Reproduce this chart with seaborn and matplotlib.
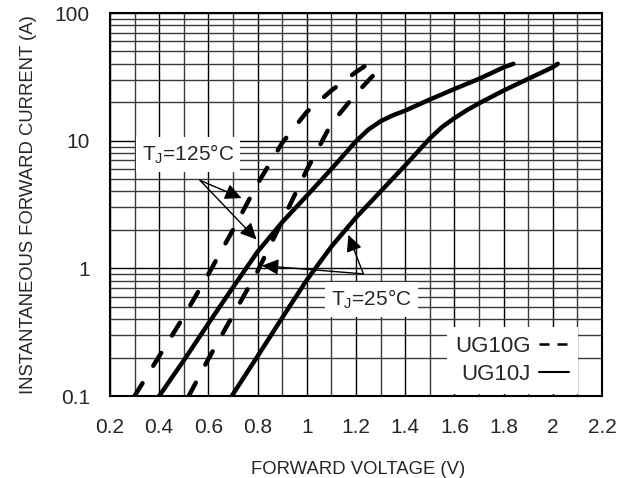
import numpy as np
import pandas as pd
import matplotlib
matplotlib.use("Agg")
import matplotlib.pyplot as plt
from matplotlib.ticker import MultipleLocator, LogLocator, FixedLocator, NullFormatter
from matplotlib.lines import Line2D
import seaborn as sns

# ---------------- data ----------------
v_g125 = [0.30, 0.40, 0.50, 0.60, 0.70, 0.80, 0.90, 1.00, 1.10, 1.20, 1.25]
i_g125 = [0.10, 0.205, 0.42, 0.90, 2.0, 4.6, 9.6, 16.8, 24.7, 34.5, 40.0]

v_g25 = [0.52, 0.60, 0.70, 0.80, 0.90, 1.00, 1.10, 1.20, 1.28]
i_g25 = [0.10, 0.195, 0.43, 0.95, 2.35, 5.9, 13.6, 23.3, 34.0]

v_j125 = [0.40, 0.50, 0.60, 0.70, 0.80, 0.90, 1.00, 1.10, 1.20, 1.25, 1.30, 1.35, 1.40, 1.50, 1.60, 1.70, 1.80, 1.84]
i_j125 = [0.10, 0.19, 0.37, 0.71, 1.35, 2.3, 3.7, 6.0, 9.9, 12.2, 14.2, 15.8, 17.2, 21.0, 25.4, 30.5, 37.5, 40.0]

v_j25 = [0.695, 0.80, 0.90, 1.00, 1.10, 1.20, 1.30, 1.40, 1.50, 1.55, 1.60, 1.65, 1.70, 1.80, 1.90, 2.00, 2.02]
i_j25 = [0.10, 0.205, 0.41, 0.81, 1.48, 2.5, 4.0, 6.4, 10.4, 12.8, 15.0, 17.3, 19.6, 24.7, 30.5, 37.6, 40.0]

x_ticks = [0.2, 0.4, 0.6, 0.8, 1.0, 1.2, 1.4, 1.6, 1.8, 2.0, 2.2]
x_tick_labels = ["0.2", "0.4", "0.6", "0.8", "1", "1.2", "1.4", "1.6", "1.8", "2", "2.2"]
y_ticks = [0.1, 1, 10, 100]
y_tick_labels = ["0.1", "1", "10", "100"]

legend_labels = ["UG10G", "UG10J"]
label_125 = "T$_\\mathregular{J}$=125°C"
label_25 = "T$_\\mathregular{J}$=25°C"

# ---------------- table ----------------
frames = []
for name, dev, v, i in [("G125", "UG10G", v_g125, i_g125),
                        ("G25", "UG10G", v_g25, i_g25),
                        ("J125", "UG10J", v_j125, i_j125),
                        ("J25", "UG10J", v_j25, i_j25)]:
    frames.append(pd.DataFrame({"V": v, "I": i, "curve": name, "device": dev}))
df = pd.concat(frames, ignore_index=True)

# ---------------- style ----------------
sns.set_style("white")
plt.rcParams["font.family"] = ["Liberation Sans", "DejaVu Sans"]
plt.rcParams["mathtext.fontset"] = "custom"
plt.rcParams["mathtext.rm"] = "Liberation Sans"
plt.rcParams["mathtext.it"] = "Liberation Sans:italic"
plt.rcParams["mathtext.bf"] = "Liberation Sans:bold"

fig = plt.figure(figsize=(6.27, 4.78), dpi=100)
ax = fig.add_axes([0.1754, 0.1715, 0.7847, 0.8013])

dash_map = {"G125": (3.4, 4.6), "G25": (3.4, 4.6), "J125": "", "J25": ""}
sns.lineplot(data=df, x="V", y="I", units="curve", style="curve", dashes=dash_map,
             estimator=None, color="black", lw=3.2, legend=False, ax=ax,
             dash_capstyle="round", solid_capstyle="round", solid_joinstyle="round",
             zorder=4)

ax.set_yscale("log")
ax.set_xlim(0.2, 2.2)
ax.set_ylim(0.1, 100)

ax.xaxis.set_major_locator(FixedLocator(x_ticks))
ax.set_xticklabels(x_tick_labels)
ax.xaxis.set_minor_locator(MultipleLocator(0.1))
ax.yaxis.set_major_locator(FixedLocator(y_ticks))
ax.set_yticklabels(y_tick_labels)
ax.yaxis.set_minor_locator(LogLocator(base=10, subs=np.arange(2, 10)))
ax.yaxis.set_minor_formatter(NullFormatter())

ax.tick_params(axis="both", which="both", length=0)
ax.tick_params(axis="x", which="major", pad=15.5, labelsize=15)
ax.tick_params(axis="y", which="major", pad=14.5, labelsize=15)

ax.grid(True, which="major", color="black", lw=1.0, zorder=0)
ax.grid(True, which="minor", color="#3a3a3a", lw=1.0, zorder=0)
ax.set_axisbelow(True)

for sp in ax.spines.values():
    sp.set_color("black")
    sp.set_linewidth(1.5)

ax.set_xlabel("FORWARD VOLTAGE (V)", fontsize=13.3)
ax.set_ylabel("INSTANTANEOUS FORWARD CURRENT (A)", fontsize=13.3)
ax.xaxis.set_label_coords(0.505, -0.170)
ax.yaxis.set_label_coords(-0.148, 0.5)

# ---------------- annotations ----------------
box = dict(facecolor="white", edgecolor="none", boxstyle="square,pad=0.3")
ax.text(0.517, 7.8, label_125, fontsize=15, ha="center", va="center", bbox=box, zorder=3)
ax.text(1.264, 0.57, label_25, fontsize=15, ha="center", va="center", bbox=box, zorder=3)

arr = dict(arrowstyle="-|>,head_length=0.5,head_width=0.24", color="black", lw=1.0,
           mutation_scale=20, shrinkA=0, shrinkB=0)
ax.annotate("", xy=(0.735, 3.55), xytext=(0.566, 4.89), arrowprops=arr, zorder=5)
ax.annotate("", xy=(0.796, 1.68), xytext=(0.566, 4.89), arrowprops=arr, zorder=5)
ax.annotate("", xy=(0.818, 1.05), xytext=(1.23, 0.905), arrowprops=arr, zorder=5)
ax.annotate("", xy=(1.169, 1.83), xytext=(1.23, 0.905), arrowprops=arr, zorder=5)

# ---------------- legend ----------------
handles = [Line2D([], [], color="black", lw=1.8, dashes=(4.0, 3.2)),
           Line2D([], [], color="black", lw=1.5)]
leg = ax.legend(handles, legend_labels, loc="upper left", bbox_to_anchor=(0.684, 0.180),
                markerfirst=False, fontsize=16, frameon=True, fancybox=False,
                framealpha=1, edgecolor="none", facecolor="white",
                handlelength=1.35, handletextpad=0.35, borderpad=0.4,
                labelspacing=0.3, borderaxespad=0)
leg.set_zorder(3)

fig.savefig("out.png", dpi=100)
